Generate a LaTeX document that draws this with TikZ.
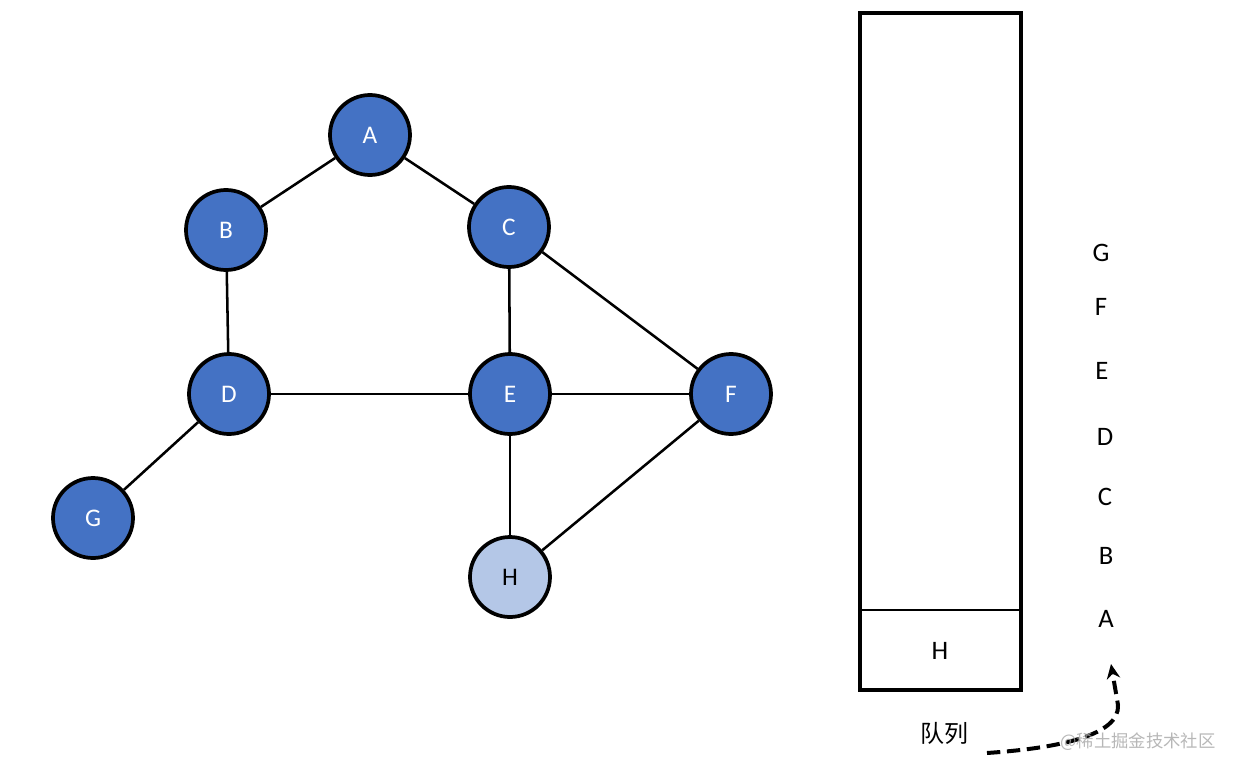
\documentclass[tikz,border=0pt]{standalone}
\usepackage{fontspec}
\setmainfont{Carlito}
\newfontfamily\cjk{Noto Sans CJK SC}
\usetikzlibrary{arrows.meta}
\definecolor{nodeblue}{HTML}{4472C4}
\definecolor{lightblue}{HTML}{B4C7E7}
\begin{document}
\begin{tikzpicture}[x=0.75pt,y=-0.75pt,
  vertex/.style={circle,draw=black,line width=2.8pt,fill=nodeblue,minimum size=60pt,inner sep=0pt,text=white,font=\fontsize{19}{21}\selectfont},
  hvertex/.style={vertex,fill=lightblue,text=black},
  edge/.style={line width=1.9pt,draw=black},
  qlabel/.style={font=\fontsize{20}{22}\selectfont,text=black}]
\useasboundingbox (0,0) rectangle (1240,775);
\fill[white] (0,0) rectangle (1240,775);
\node[vertex] (A) at (370,135) {A};
\node[vertex] (B) at (226,230) {B};
\node[vertex] (C) at (509,227) {C};
\node[vertex] (D) at (229,394) {D};
\node[vertex] (E) at (510,394) {E};
\node[vertex] (F) at (731,394) {F};
\node[vertex] (G) at (93,518) {G};
\node[hvertex] (H) at (510,577) {H};
\draw[edge] (A) -- (B);
\draw[edge] (A) -- (C);
\draw[edge] (B) -- (D);
\draw[edge] (C) -- (E);
\draw[edge] (C) -- (F);
\draw[edge] (D) -- (E);
\draw[edge] (E) -- (F);
\draw[edge] (D) -- (G);
\draw[edge] (E) -- (H);
\draw[edge] (F) -- (H);
% queue
\node[draw=black,line width=2.8pt,minimum width=120.75pt,minimum height=507.75pt,inner sep=0pt] (Q) at (940.5,351.5) {};
\coordinate (ql) at (860,610);
\coordinate (qr) at (1021,610);
\draw[line width=1.5pt] (ql) -- (qr);
\node[qlabel] (qh) at (940,651) {H};
\node[qlabel] (lG) at (1101,253) {G};
\node[qlabel] (lF) at (1101,307) {F};
\node[qlabel] (lE) at (1102,371) {E};
\node[qlabel] (lD) at (1105,437) {D};
\node[qlabel] (lC) at (1105,497) {C};
\node[qlabel] (lB) at (1106,556) {B};
\node[qlabel] (lA) at (1106,619) {A};
\node[font=\cjk\fontsize{18}{20}\selectfont] (ql2) at (944,733) {队列};
\coordinate (s) at (987,753);
\coordinate (t) at (1111,664);
\draw[line width=3pt,dash pattern=on 10pt off 5pt,-{Stealth[length=11pt,width=10pt]}]
  (s) .. controls (1060,748) and (1120,735) .. (1118,705) -- (t);
\node[font=\cjk\fontsize{13}{15}\selectfont,text=black!35,opacity=0.8] (wm) at (1138,742) {@稀土掘金技术社区};
\end{tikzpicture}
\end{document}
